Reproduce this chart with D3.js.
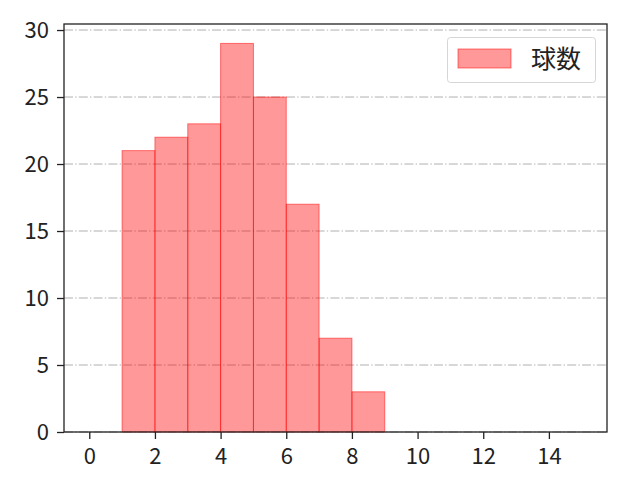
<!DOCTYPE html>
<html>
<head>
<meta charset="utf-8">
<script src="https://cdn.jsdelivr.net/npm/d3@7"></script>
<style>
  body { margin: 0; background: #fff; }
  text { font-family: "Noto Sans CJK JP", "DejaVu Sans", sans-serif; }
</style>
</head>
<body>
<svg width="640" height="480"></svg>
<script>
// bins (left edge), counts
var binStart = [1, 2, 3, 4, 5, 6, 7, 8];
var counts = [21, 22, 23, 29, 25, 17, 7, 3];
var xTicks = [0, 2, 4, 6, 8, 10, 12, 14];
var yTicks = [0, 5, 10, 15, 20, 25, 30];
var seriesName = "球数";

var plotLeft = 64, plotRight = 607, plotTop = 24, plotBottom = 432;

var svg = d3.select("svg");

var x = d3.scaleLinear().domain([-0.77, 15.77]).range([plotLeft, plotRight]);
var y = d3.scaleLinear().domain([0, 30.45]).range([plotBottom, plotTop]);

// grid
svg.append("g")
    .selectAll("line")
    .data(yTicks)
    .enter()
    .append("line")
    .attr("x1", plotLeft)
    .attr("x2", plotRight)
    .attr("y1", d => y(d))
    .attr("y2", d => y(d))
    .attr("stroke", "#b0b0b0")
    .attr("stroke-width", 1)
    .attr("stroke-dasharray", "9,2.2,1.4,2.2");

// bars
svg.append("g")
    .selectAll("rect")
    .data(binStart)
    .enter()
    .append("rect")
    .attr("x", d => x(d))
    .attr("y", (d, i) => y(counts[i]))
    .attr("width", d => x(d + 1) - x(d))
    .attr("height", (d, i) => plotBottom - y(counts[i]))
    .attr("fill", "rgba(255,0,0,0.4)")
    .attr("stroke", "rgba(255,0,0,0.5)")
    .attr("stroke-width", 1);

// axes
var xAxis = d3.axisBottom(x).tickValues(xTicks).tickSize(7).tickPadding(9);
var yAxis = d3.axisLeft(y).tickValues(yTicks).tickSize(7).tickPadding(8);

var gx = svg.append("g").attr("transform", "translate(0," + plotBottom + ")").call(xAxis);
var gy = svg.append("g").attr("transform", "translate(" + plotLeft + ",0)").call(yAxis);

[gx, gy].forEach(function (g) {
    g.select(".domain").remove();
    g.selectAll("line").attr("stroke", "#222").attr("stroke-width", 1.3);
    g.selectAll("text")
        .attr("fill", "#222")
        .style("font-size", "22px")
        .style("font-family", '"Noto Sans CJK JP", "DejaVu Sans", sans-serif');
});

// frame
svg.append("rect")
    .attr("x", plotLeft)
    .attr("y", plotTop)
    .attr("width", plotRight - plotLeft)
    .attr("height", plotBottom - plotTop)
    .attr("fill", "none")
    .attr("stroke", "#222")
    .attr("stroke-width", 1.3);

// legend
var lg = svg.append("g");
lg.append("rect")
    .attr("x", 447.5).attr("y", 37.5)
    .attr("width", 148).attr("height", 45)
    .attr("rx", 3)
    .attr("fill", "rgba(255,255,255,0.8)")
    .attr("stroke", "#d6d6d6")
    .attr("stroke-width", 1);
lg.append("rect")
    .attr("x", 458).attr("y", 49)
    .attr("width", 53).attr("height", 19)
    .attr("fill", "rgba(255,0,0,0.4)")
    .attr("stroke", "rgba(255,0,0,0.5)");
lg.append("text")
    .attr("x", 531).attr("y", 68)
    .attr("fill", "#222")
    .style("font-size", "25px")
    .text(seriesName);
</script>
</body>
</html>
